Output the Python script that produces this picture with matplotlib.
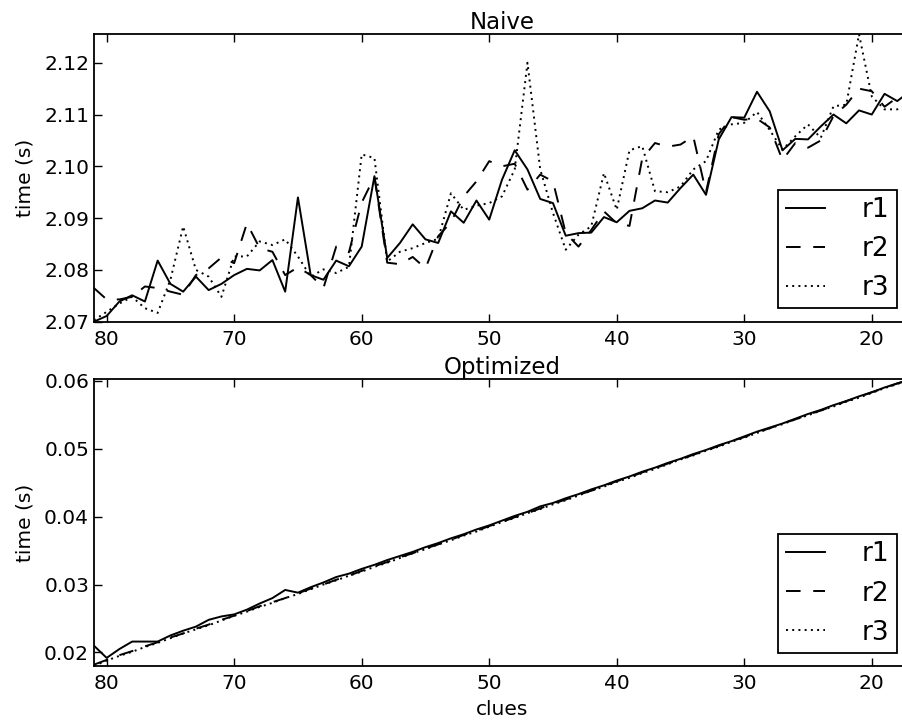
import matplotlib
matplotlib.use('Agg')
import matplotlib.pyplot as plt

# clue counts, plotted from 81 down to 17
clues = list(range(81, 16, -1))

naive_r1 = [2.0700, 2.0711, 2.0739, 2.0751, 2.0739, 2.0818, 2.0773, 2.0758, 2.0787, 2.0761,
            2.0773, 2.0790, 2.0802, 2.0799, 2.0819, 2.0758, 2.0940, 2.0790, 2.0781, 2.0818,
            2.0807, 2.0845, 2.0981, 2.0823, 2.0852, 2.0888, 2.0859, 2.0852, 2.0913, 2.0891,
            2.0934, 2.0897, 2.0974, 2.1031, 2.0994, 2.0937, 2.0929, 2.0866, 2.0871, 2.0872,
            2.0902, 2.0892, 2.0914, 2.0919, 2.0934, 2.0930, 2.0958, 2.0984, 2.0945, 2.1052,
            2.1095, 2.1094, 2.1144, 2.1106, 2.1031, 2.1053, 2.1052, 2.1077, 2.1100, 2.1083,
            2.1108, 2.1100, 2.1140, 2.1126, 2.1145]
naive_r2 = [2.0765, 2.0743, 2.0743, 2.0748, 2.0768, 2.0765, 2.0758, 2.0752, 2.0790, 2.0803,
            2.0824, 2.0813, 2.0890, 2.0842, 2.0835, 2.0790, 2.0805, 2.0790, 2.0765, 2.0845,
            2.0834, 2.0930, 2.0980, 2.0814, 2.0811, 2.0825, 2.0803, 2.0865, 2.0892, 2.0942,
            2.0971, 2.1010, 2.1000, 2.1005, 2.0955, 2.0984, 2.0971, 2.0871, 2.0845, 2.0877,
            2.0913, 2.0890, 2.0885, 2.1015, 2.1045, 2.1038, 2.1042, 2.1058, 2.0950, 2.1062,
            2.1095, 2.1090, 2.1092, 2.1075, 2.1012, 2.1045, 2.1036, 2.1050, 2.1097, 2.1119,
            2.1150, 2.1145, 2.1115, 2.1133, 2.1145]
naive_r3 = [2.0703, 2.0719, 2.0735, 2.0748, 2.0726, 2.0717, 2.0781, 2.0884, 2.0800, 2.0787,
            2.0748, 2.0826, 2.0826, 2.0855, 2.0848, 2.0859, 2.0826, 2.0787, 2.0801, 2.0794,
            2.0806, 2.1023, 2.1016, 2.0816, 2.0835, 2.0842, 2.0852, 2.0860, 2.0948, 2.0916,
            2.0924, 2.0929, 2.0942, 2.0994, 2.1200, 2.0994, 2.0910, 2.0839, 2.0868, 2.0884,
            2.0987, 2.0916, 2.1031, 2.1039, 2.0952, 2.0950, 2.0961, 2.0994, 2.1010, 2.1071,
            2.1081, 2.1084, 2.1105, 2.1070, 2.1032, 2.1058, 2.1081, 2.1055, 2.1116, 2.1119,
            2.1255, 2.1135, 2.1110, 2.1110, 2.1120]

opt_r1 = [0.0210, 0.0192, 0.0205, 0.0216, 0.0216, 0.0216, 0.0225, 0.0232, 0.0238, 0.0248,
          0.0253, 0.0256, 0.0263, 0.0272, 0.0280, 0.0292, 0.0288, 0.0296, 0.0303, 0.0311,
          0.0316, 0.0323, 0.0329, 0.0336, 0.0342, 0.0348, 0.0355, 0.0361, 0.0368, 0.0374,
          0.0381, 0.0387, 0.0394, 0.0401, 0.0407, 0.0415, 0.0420, 0.0427, 0.0433, 0.0440,
          0.0446, 0.0453, 0.0459, 0.0466, 0.0472, 0.0479, 0.0485, 0.0492, 0.0498, 0.0505,
          0.0511, 0.0518, 0.0525, 0.0531, 0.0537, 0.0544, 0.0551, 0.0557, 0.0564, 0.0570,
          0.0577, 0.0583, 0.0590, 0.0596, 0.0602]
opt_r2 = [0.0182, 0.0189, 0.0196, 0.0202, 0.0209, 0.0215, 0.0222, 0.0228, 0.0235, 0.0241,
          0.0248, 0.0254, 0.0261, 0.0268, 0.0274, 0.0280, 0.0287, 0.0294, 0.0300, 0.0307,
          0.0313, 0.0320, 0.0327, 0.0333, 0.0340, 0.0346, 0.0353, 0.0359, 0.0366, 0.0373,
          0.0379, 0.0386, 0.0392, 0.0399, 0.0405, 0.0412, 0.0419, 0.0425, 0.0432, 0.0438,
          0.0445, 0.0452, 0.0458, 0.0465, 0.0471, 0.0478, 0.0484, 0.0491, 0.0497, 0.0504,
          0.0511, 0.0517, 0.0524, 0.0530, 0.0537, 0.0543, 0.0550, 0.0556, 0.0563, 0.0570,
          0.0576, 0.0583, 0.0589, 0.0596, 0.0601]
opt_r3 = [0.0180, 0.0188, 0.0195, 0.0201, 0.0208, 0.0214, 0.0221, 0.0228, 0.0234, 0.0240,
          0.0247, 0.0254, 0.0260, 0.0267, 0.0273, 0.0280, 0.0286, 0.0293, 0.0300, 0.0306,
          0.0313, 0.0319, 0.0326, 0.0332, 0.0339, 0.0346, 0.0352, 0.0359, 0.0365, 0.0372,
          0.0378, 0.0385, 0.0392, 0.0398, 0.0405, 0.0411, 0.0418, 0.0424, 0.0431, 0.0438,
          0.0444, 0.0451, 0.0457, 0.0464, 0.0470, 0.0477, 0.0484, 0.0490, 0.0497, 0.0503,
          0.0510, 0.0516, 0.0523, 0.0530, 0.0536, 0.0543, 0.0549, 0.0556, 0.0562, 0.0569,
          0.0575, 0.0582, 0.0589, 0.0595, 0.0602]

run_labels = ['r1', 'r2', 'r3']
run_dashes = [None, (7.5, 6.5), (1.0, 2.2)]

plt.rcParams['font.family'] = 'DejaVu Sans'
plt.rcParams['axes.linewidth'] = 1.3

fig = plt.figure(figsize=(9.02, 7.26), dpi=100)
ax1 = fig.add_axes([0.1041, 0.5569, 0.9048, 0.3959])
ax2 = fig.add_axes([0.1041, 0.0826, 0.9048, 0.3949])


def draw_panel(ax, series, title):
    for vals, lab, dash in zip(series, run_labels, run_dashes):
        line, = ax.plot(clues, vals, color='black', linewidth=1.4, label=lab)
        if dash is not None:
            line.set_dashes(dash)
    ax.set_xlim(81, 17)
    lo = min(min(s) for s in series)
    hi = max(max(s) for s in series)
    ax.set_ylim(lo, hi)
    ax.set_xticks([80, 70, 60, 50, 40, 30, 20])
    ax.tick_params(direction='in', top=True, right=True, length=5.5, width=1.0,
                   labelsize=14.5)
    ax.tick_params(axis='x', pad=6)
    ax.tick_params(axis='y', pad=3.5)
    ax.set_title(title, fontsize=16.5, pad=4)
    ax.set_ylabel('time (s)', fontsize=14.5, labelpad=7)
    leg = ax.legend(loc='lower right', fontsize=19, handlelength=1.5,
                    handletextpad=1.4, labelspacing=0.5, borderpad=0.27,
                    borderaxespad=0.5, fancybox=False, framealpha=1)
    leg.get_frame().set_edgecolor('black')
    leg.get_frame().set_linewidth(1.3)


draw_panel(ax1, [naive_r1, naive_r2, naive_r3], 'Naive')
ax1.yaxis.set_major_formatter(matplotlib.ticker.FormatStrFormatter('%.2f'))
draw_panel(ax2, [opt_r1, opt_r2, opt_r3], 'Optimized')
ax2.set_yticks([0.02, 0.03, 0.04, 0.05, 0.06])
ax2.yaxis.set_major_formatter(matplotlib.ticker.FormatStrFormatter('%.2f'))
ax2.set_xlabel('clues', fontsize=14.5, labelpad=5)

fig.savefig('out.png', dpi=100, facecolor='white')
